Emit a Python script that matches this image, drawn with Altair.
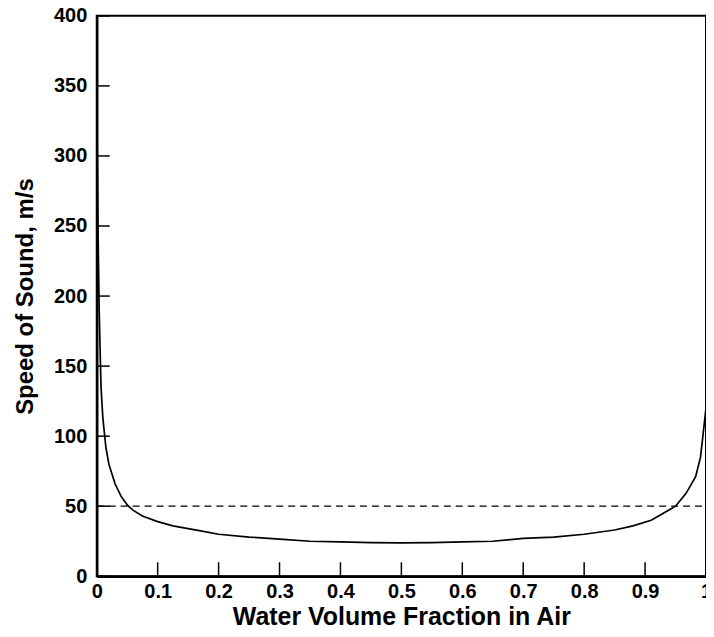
import altair as alt
import pandas as pd

# Water volume fraction vs speed of sound
fraction = [0.0, 0.002, 0.004, 0.007, 0.01, 0.015, 0.02, 0.03, 0.04, 0.05,
            0.06, 0.075, 0.1, 0.125, 0.15, 0.175, 0.2, 0.25, 0.3, 0.35,
            0.4, 0.45, 0.5, 0.55, 0.6, 0.65, 0.7, 0.75, 0.8, 0.85,
            0.88, 0.91, 0.93, 0.95, 0.967, 0.983, 0.991, 1.0]
speed = [340, 250, 190, 135, 113, 92, 80, 66, 57, 51,
         47, 43, 39, 36, 34, 32, 30, 28, 26.5, 25,
         24.5, 24, 23.8, 24, 24.5, 25, 27, 28, 30, 33,
         36, 40, 45, 50, 59, 71, 85, 120]

ref_x = [0.0, 1.0]
ref_y = [50, 50]

x_ticks = [0, 0.1, 0.2, 0.3, 0.4, 0.5, 0.6, 0.7, 0.8, 0.9, 1.0]
y_ticks = [0, 50, 100, 150, 200, 250, 300, 350, 400]

W, H = 611, 562
FONT = "Liberation Sans"

curve_df = pd.DataFrame({"x": fraction, "y": speed})
ref_df = pd.DataFrame({"x": ref_x, "y": ref_y})
xt_df = pd.DataFrame({"x": x_ticks})
yt_df = pd.DataFrame({"y": y_ticks})

xscale = alt.Scale(domain=[0, 1], nice=False, zero=False)
yscale = alt.Scale(domain=[0, 400], nice=False)

xaxis = alt.Axis(values=x_ticks, labelExpr="datum.value == 0 ? '0' : datum.value == 1 ? '1' : format(datum.value, '.1f')",
                 ticks=False, grid=False, domainColor="black", domainWidth=2.5,
                 labelFont=FONT, labelFontWeight="bold", labelFontSize=20, labelColor="black",
                 labelPadding=5, title="Water Volume Fraction in Air",
                 titleFont=FONT, titleFontWeight="bold", titleFontSize=25, titleColor="black",
                 titlePadding=3, labelFlush=False, labelOverlap=False)
yaxis = alt.Axis(values=y_ticks, ticks=False, grid=False, domainColor="black", domainWidth=2.5,
                 labelFont=FONT, labelFontWeight="bold", labelFontSize=20, labelColor="black",
                 labelPadding=10, title="Speed of Sound, m/s",
                 titleFont=FONT, titleFontWeight="bold", titleFontSize=24, titleColor="black",
                 titlePadding=16, labelFlush=False, labelOverlap=False)

curve = alt.Chart(curve_df).mark_line(color="black", strokeWidth=1.7, clip=True).encode(
    x=alt.X("x:Q", scale=xscale, axis=xaxis),
    y=alt.Y("y:Q", scale=yscale, axis=yaxis),
)

ref = alt.Chart(ref_df).mark_line(color="black", strokeWidth=1.3, strokeDash=[7, 5]).encode(
    x=alt.X("x:Q", scale=xscale),
    y=alt.Y("y:Q", scale=yscale),
)

xticks = alt.Chart(xt_df).mark_rule(color="black", strokeWidth=1.5).encode(
    x=alt.X("x:Q", scale=xscale),
    y=alt.value(H),
    y2=alt.value(H - 14),
)

yticks = alt.Chart(yt_df).mark_rule(color="black", strokeWidth=1.5).encode(
    y=alt.Y("y:Q", scale=yscale),
    x=alt.value(0),
    x2=alt.value(13),
)

chart = alt.layer(curve, ref, xticks, yticks).properties(
    width=W, height=H,
    autosize=alt.AutoSizeParams(type="none"),
    padding={"left": 89, "top": 7, "right": 0, "bottom": 52},
).configure(
    background="white",
    view=alt.ViewConfig(stroke="black", strokeWidth=2),
)

chart.save("out.html", embed_options={"renderer": "svg", "actions": False})
